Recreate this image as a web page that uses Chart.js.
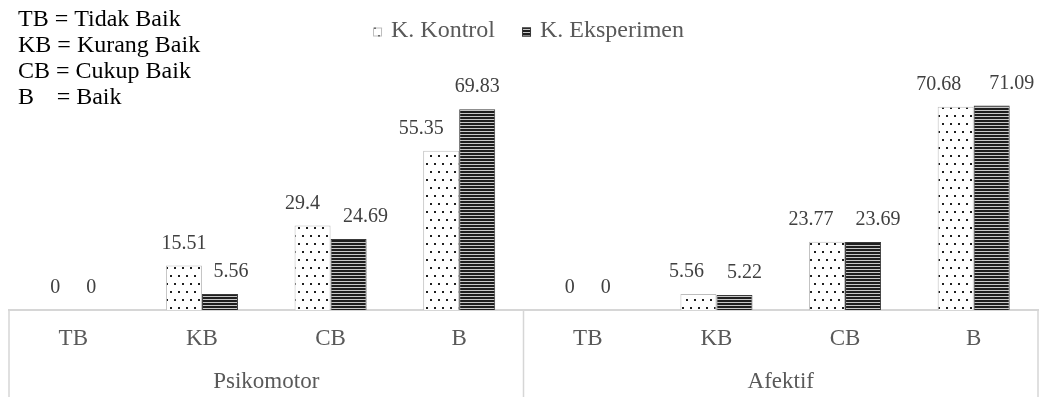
<!DOCTYPE html>
<html>
<head>
<meta charset="utf-8">
<script src="https://cdn.jsdelivr.net/npm/chart.js@4.4.1/dist/chart.umd.min.js"></script>
<style>
  html, body { margin: 0; padding: 0; background: #fff; overflow: hidden; }
  #wrap { width: 1040px; height: 397px; overflow: hidden; position: relative; }
  canvas { display: block; }
</style>
</head>
<body>
<div id="wrap"><canvas id="c" width="1040" height="397"></canvas></div>
<script>
// Categories and groups on the horizontal axis
const categories = ['TB', 'KB', 'CB', 'B', 'TB', 'KB', 'CB', 'B'];
const groups = ['Psikomotor', 'Afektif'];

// Series
const seriesNames = ['K. Kontrol', 'K. Eksperimen'];
const kontrol = [0, 15.51, 29.4, 55.35, 0, 5.56, 23.77, 70.68];
const eksperimen = [0, 5.56, 24.69, 69.83, 0, 5.22, 23.69, 71.09];

// Key for the abbreviations
const keyAbbr = ['TB', 'KB', 'CB', 'B'];
const keyText = ['= Tidak Baik', '= Kurang Baik', '= Cukup Baik', '= Baik'];

// Horizontal nudges of value labels so neighbours do not collide
const kontrolLabelDx = [0, 0, -10, -20, 0, -12, -16, -17];
const eksperimenLabelDx = [0, 11, 17, 0, 0, 10, 15, 20];

const SERIF = '"Liberation Serif", "Times New Roman", serif';

function dotPattern() {
  const c = document.createElement('canvas');
  c.width = 8; c.height = 16;
  const g = c.getContext('2d');
  g.fillStyle = '#ffffff';
  g.fillRect(0, 0, 8, 16);
  g.fillStyle = '#1f1f1f';
  g.fillRect(2, 3, 2, 2);
  g.fillRect(6, 11, 2, 2);
  return g.createPattern(c, 'repeat');
}

function stripePattern() {
  const c = document.createElement('canvas');
  c.width = 4; c.height = 3;
  const g = c.getContext('2d');
  g.fillStyle = '#1e1e1e';
  g.fillRect(0, 0, 4, 2);
  g.fillStyle = '#c8c8c8';
  g.fillRect(0, 2, 4, 1);
  return g.createPattern(c, 'repeat');
}

const kontrolFill = dotPattern();
const eksperimenFill = stripePattern();

// Value labels above bars
const valueLabels = {
  id: 'valueLabels',
  afterDatasetsDraw(chart) {
    const ctx = chart.ctx;
    const shifts = [kontrolLabelDx, eksperimenLabelDx];
    ctx.save();
    ctx.font = '20px ' + SERIF;
    ctx.fillStyle = '#404040';
    ctx.textAlign = 'center';
    ctx.textBaseline = 'middle';
    chart.data.datasets.forEach((ds, di) => {
      const meta = chart.getDatasetMeta(di);
      meta.data.forEach((bar, i) => {
        ctx.fillText(String(ds.data[i]), bar.x + shifts[di][i], bar.y - 22);
      });
    });
    ctx.restore();
  }
};

// Legend, abbreviation key and the frame under the axis
const decorations = {
  id: 'decorations',
  afterDraw(chart) {
    const ctx = chart.ctx;
    const area = chart.chartArea;
    const xs = chart.scales.x;

    // frame lines below the plot
    ctx.save();
    ctx.strokeStyle = '#d6d6d6';
    ctx.lineWidth = 1.5;
    const mid = (xs.getPixelForValue(3) + xs.getPixelForValue(4)) / 2;
    [area.left, mid, area.right].forEach(x => {
      ctx.beginPath();
      ctx.moveTo(x, area.bottom);
      ctx.lineTo(x, chart.height);
      ctx.stroke();
    });
    ctx.restore();

    // legend
    ctx.save();
    ctx.font = '24px ' + SERIF;
    ctx.textBaseline = 'middle';
    const box = 9, gapText = 9, gapItem = 27;
    const widths = seriesNames.map(n => ctx.measureText(n).width);
    const total = widths.reduce((a, w) => a + box + gapText + w, 0) + gapItem * (seriesNames.length - 1);
    let x = (area.left + area.right) / 2 - total / 2 + 5;
    const y = 31;
    chart.data.datasets.forEach((ds, i) => {
      ctx.fillStyle = ds.backgroundColor;
      ctx.fillRect(x, y - box / 2 + 1, box, box);
      ctx.strokeStyle = ds.borderColor;
      ctx.lineWidth = 1;
      ctx.strokeRect(x + 0.5, y - box / 2 + 1.5, box - 1, box - 1);
      x += box + gapText;
      ctx.fillStyle = '#595959';
      ctx.fillText(seriesNames[i], x, y);
      x += widths[i] + gapItem;
    });
    ctx.restore();

    // abbreviation key
    ctx.save();
    ctx.font = '24px ' + SERIF;
    ctx.fillStyle = '#000000';
    ctx.textBaseline = 'alphabetic';
    const eqX = 18 + ctx.measureText('TB ').width + 2;
    keyAbbr.forEach((a, i) => {
      const by = 26 + i * 26;
      ctx.fillText(a, 18, by);
      const ax = i === 3 ? eqX : 18 + ctx.measureText(a + ' ').width;
      ctx.fillText(keyText[i], ax, by);
    });
    ctx.restore();
  }
};

new Chart(document.getElementById('c'), {
  type: 'bar',
  data: {
    labels: categories,
    datasets: [
      {
        label: seriesNames[0],
        data: kontrol,
        backgroundColor: kontrolFill,
        borderColor: '#bdbdbd',
        borderWidth: 1
      },
      {
        label: seriesNames[1],
        data: eksperimen,
        backgroundColor: eksperimenFill,
        borderColor: '#3a3a3a',
        borderWidth: 1
      }
    ]
  },
  options: {
    responsive: false,
    animation: false,
    devicePixelRatio: 1,
    layout: { padding: { top: 80, left: 9, right: 2, bottom: 0 } },
    datasets: { bar: { categoryPercentage: 0.56, barPercentage: 1 } },
    plugins: {
      legend: { display: false },
      tooltip: { enabled: false }
    },
    scales: {
      y: { display: false, min: 0, max: 80 },
      x: {
        position: 'bottom',
        grid: { display: false, drawTicks: false },
        border: { display: true, color: '#d6d6d6', width: 2 },
        ticks: { color: '#595959', font: { family: SERIF, size: 23 }, padding: 15, maxRotation: 0, autoSkip: false },
        afterFit(scale) { scale.height = 46; }
      },
      x2: {
        type: 'category',
        labels: groups,
        position: 'bottom',
        offset: true,
        grid: { display: false, drawTicks: false },
        border: { display: false },
        ticks: { color: '#595959', font: { family: SERIF, size: 23 }, padding: 12, maxRotation: 0 },
        afterFit(scale) { scale.height = 41; }
      }
    }
  },
  plugins: [valueLabels, decorations]
});
</script>
</body>
</html>
